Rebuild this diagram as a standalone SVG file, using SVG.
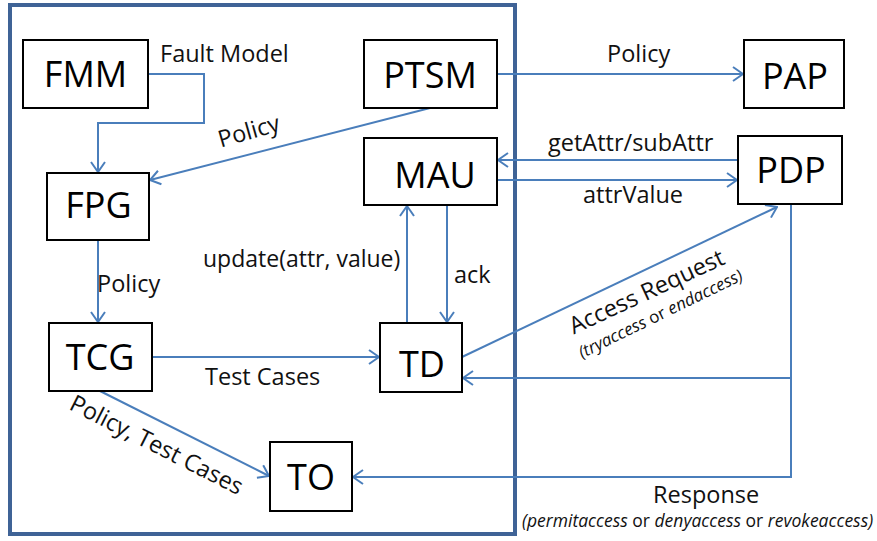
<svg xmlns="http://www.w3.org/2000/svg" width="877" height="541" viewBox="0 0 877 541">
<style>
.box{fill:#fff;stroke:#000;stroke-width:2}
.nt{font-family:"Open Sans","DejaVu Sans",sans-serif;font-size:36px;fill:#000;text-anchor:middle}
.lb{font-family:"Open Sans","DejaVu Sans",sans-serif;font-size:23.5px;fill:#111}
.sm{font-family:"Open Sans","DejaVu Sans",sans-serif;font-size:17px;fill:#111}
.it{font-style:italic}
.cn{fill:none;stroke:#4A7EBB;stroke-width:2}
</style>
<defs>
<marker id="arr" viewBox="0 0 12 16" refX="11" refY="8" markerWidth="12" markerHeight="16" markerUnits="userSpaceOnUse" orient="auto">
<path d="M1,1 L11,8 L1,15" fill="none" stroke="#4A7EBB" stroke-width="2"/>
</marker>
</defs>
<rect width="877" height="541" fill="#fff"/>
<rect id="frame" x="10" y="5" width="505" height="529" fill="none" stroke="#3F6396" stroke-width="4"/>

<g id="connectors">
<path class="cn" d="M148,74 H204 V123 H98 V172" marker-end="url(#arr)"/>
<path class="cn" d="M430,108 L150,180" marker-end="url(#arr)"/>
<path class="cn" d="M497,74 H743" marker-end="url(#arr)"/>
<path class="cn" d="M738,160 H498" marker-end="url(#arr)"/>
<path class="cn" d="M497,180 H737" marker-end="url(#arr)"/>
<path class="cn" d="M407,323 V206" marker-end="url(#arr)"/>
<path class="cn" d="M447,205 V322" marker-end="url(#arr)"/>
<path class="cn" d="M98,240 V322" marker-end="url(#arr)"/>
<path class="cn" d="M152,357 H379" marker-end="url(#arr)"/>
<path class="cn" d="M100,391 L269,476" marker-end="url(#arr)"/>
<path class="cn" d="M462,357 L777,207" marker-end="url(#arr)"/>
<path class="cn" d="M791,204 V378 H463" marker-end="url(#arr)"/>
<path class="cn" d="M791,378 V477 H353" marker-end="url(#arr)"/>
</g>

<g id="labels">
<text class="lb" x="160" y="62">Fault Model</text>
<text class="lb" x="607" y="62">Policy</text>
<text class="lb" x="548" y="151">getAttr/subAttr</text>
<text class="lb" x="583" y="203">attrValue</text>
<text class="lb" x="97" y="292">Policy</text>
<text class="lb" x="203" y="267" style="font-size:23px">update(attr, value)</text>
<text class="lb" x="454" y="283">ack</text>
<text class="lb" x="205" y="385">Test Cases</text>
<text class="lb" x="653" y="503">Response</text>
<text class="sm" x="522" y="527" style="font-size:17.5px"><tspan class="it">(permitaccess</tspan> or <tspan class="it">denyaccess</tspan> or <tspan class="it">revokeaccess)</tspan></text>
<text class="lb" text-anchor="middle" transform="translate(251,139) rotate(-16)">Policy</text>
<text class="lb" text-anchor="middle" transform="translate(153,452) rotate(27)">Policy, Test Cases</text>
<text class="lb" text-anchor="middle" transform="translate(650,299) rotate(-25)">Access Request</text>
<text class="sm" text-anchor="middle" transform="translate(663,319) rotate(-26)"><tspan class="it">(tryaccess</tspan> or <tspan class="it">endaccess)</tspan></text>
</g>

<g id="FMM"><rect class="box" x="23" y="40" width="125" height="68"/><text class="nt" x="85.5" y="87">FMM</text></g>
<g id="PTSM"><rect class="box" x="364" y="40" width="133" height="68"/><text class="nt" x="430" y="88">PTSM</text></g>
<g id="PAP"><rect class="box" x="744" y="40" width="100" height="68"/><text class="nt" x="795" y="89">PAP</text></g>
<g id="MAU"><rect class="box" x="364" y="138" width="133" height="67"/><text class="nt" x="435" y="188">MAU</text></g>
<g id="PDP"><rect class="box" x="738" y="136" width="104" height="68"/><text class="nt" x="791" y="183">PDP</text></g>
<g id="FPG"><rect class="box" x="47" y="173" width="102" height="67"/><text class="nt" x="98.5" y="218">FPG</text></g>
<g id="TCG"><rect class="box" x="49" y="323" width="103" height="68"/><text class="nt" x="100" y="370">TCG</text></g>
<g id="TD"><rect class="box" x="380" y="323" width="82" height="69"/><text class="nt" x="422" y="377">TD</text></g>
<g id="TO"><rect class="box" x="270" y="442" width="82" height="69"/><text class="nt" x="311" y="490">TO</text></g>
</svg>
